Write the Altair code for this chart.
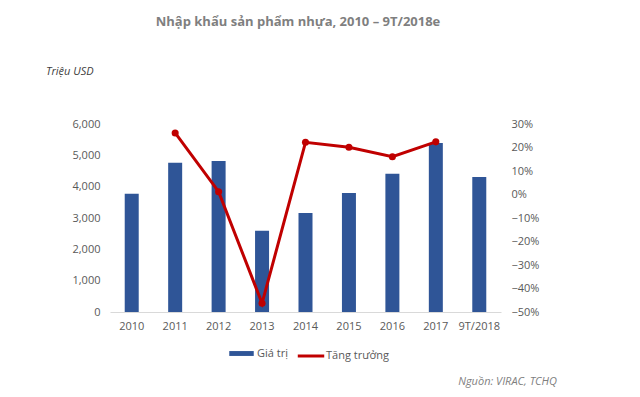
import altair as alt
import pandas as pd

years = ["2010", "2011", "2012", "2013", "2014", "2015", "2016", "2017", "9T/2018"]
values = [3770, 4760, 4820, 2590, 3160, 3800, 4410, 5390, 4310]
growth = [None, 0.262, 0.012, -0.463, 0.222, 0.201, 0.161, 0.224, None]

series_names = ["Giá trị", "Tăng trưởng"]
title_text = "Nhập khẩu sản phẩm nhựa, 2010 – 9T/2018e"
unit_text = "Triệu USD"
source_text = "Nguồn: VIRAC, TCHQ"

df = pd.DataFrame({"year": years, "value": values, "growth": growth,
                   "s1": series_names[0], "s2": series_names[1]})

FONT = "Open Sans"
BLUE = "#2F5597"
RED = "#C00000"
GRAY = "#595959"

x = alt.X("year:N", sort=years,
          axis=alt.Axis(title=None, labelAngle=0, ticks=False, domainColor="#D9D9D9",
                        labelPadding=8, labelColor=GRAY, labelFontSize=11, labelFont=FONT))

bars = alt.Chart(df).mark_bar(size=14).encode(
    x=x,
    y=alt.Y("value:Q", scale=alt.Scale(domain=[0, 6000]),
            axis=alt.Axis(title=None, values=[0, 1000, 2000, 3000, 4000, 5000, 6000],
                          labelExpr="format(datum.value, ',')",
                          domain=False, ticks=False, grid=False, labelPadding=10,
                          labelColor=GRAY, labelFontSize=11, labelFont=FONT, orient="left")),
    fill=alt.Fill("s1:N", scale=alt.Scale(range=[BLUE]),
                  legend=alt.Legend(title=None, orient="none", legendX=119, legendY=217,
                                    symbolType="M-1,-0.2H1V0.2H-1Z", symbolSize=600,
                                    symbolStrokeWidth=0, labelFontSize=11, labelColor=GRAY,
                                    labelFont=FONT, labelOffset=3)),
)

line = alt.Chart(df).transform_filter("isValid(datum.growth)").mark_line(strokeWidth=3).encode(
    x=x,
    y=alt.Y("growth:Q", scale=alt.Scale(domain=[-0.5, 0.3]),
            axis=alt.Axis(title=None, values=[-0.5, -0.4, -0.3, -0.2, -0.1, 0, 0.1, 0.2, 0.3],
                          labelExpr="format(datum.value, '.0%')",
                          domain=False, ticks=False, grid=False, labelPadding=10,
                          labelColor=GRAY, labelFontSize=11, labelFont=FONT, orient="right")),
    stroke=alt.Stroke("s2:N", scale=alt.Scale(range=[RED]),
                      legend=alt.Legend(title=None, orient="none", legendX=186, legendY=217,
                                        symbolType="stroke", symbolStrokeWidth=3, symbolSize=700,
                                        labelFontSize=11, labelColor=GRAY, labelFont=FONT,
                                        labelOffset=0)),
)

points = alt.Chart(df).transform_filter("isValid(datum.growth)").mark_circle(size=50, color=RED, opacity=1).encode(
    x=x,
    y=alt.Y("growth:Q", scale=alt.Scale(domain=[-0.5, 0.3]), axis=None),
)

title = alt.Chart(pd.DataFrame({"t": [title_text]})).mark_text(
    font=FONT, fontSize=13, fontWeight="bold", color="#7F7F7F", align="center", baseline="middle"
).encode(text="t:N", x=alt.value(188), y=alt.value(-102))

unit = alt.Chart(pd.DataFrame({"t": [unit_text]})).mark_text(
    font=FONT, fontSize=11, fontStyle="italic", color="#404040", align="left", baseline="middle"
).encode(text="t:N", x=alt.value(-64), y=alt.value(-52))

source = alt.Chart(pd.DataFrame({"t": [source_text]})).mark_text(
    font=FONT, fontSize=11, fontStyle="italic", color="#7F7F7F", align="right", baseline="middle"
).encode(text="t:N", x=alt.value(447), y=alt.value(258))

chart = alt.layer(bars, line, points, title, unit, source).resolve_scale(
    y="independent", fill="independent", stroke="independent"
).resolve_axis(y="independent").properties(
    width=391, height=188,
    background="white",
    autosize=alt.AutoSizeParams(type="none"),
    padding={"left": 102, "top": 116, "right": 131, "bottom": 77},
).configure_view(stroke="transparent", strokeWidth=0).configure_axisY(
    domain=False, ticks=False, grid=False
)

chart.save("out.html", embed_options={"renderer": "svg", "actions": False})
